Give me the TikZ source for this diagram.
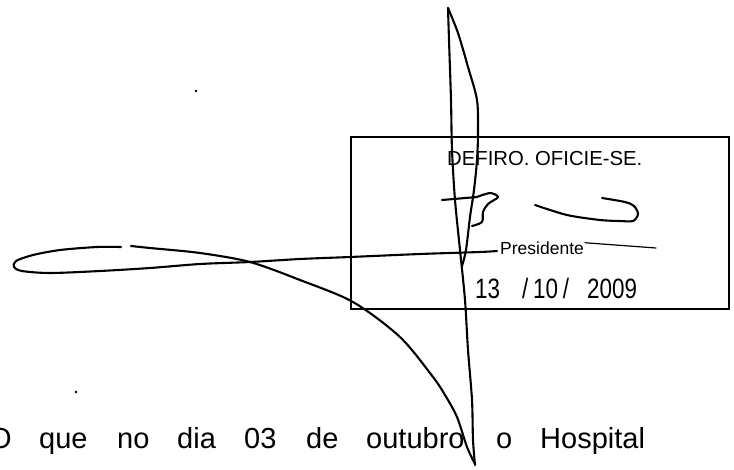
\documentclass[tikz,border=0pt]{standalone}
\usepackage{fontspec}
\setmainfont{Liberation Sans}
\begin{document}
\begin{tikzpicture}[x=1pt,y=-1pt,
  stampbox/.style={draw, line width=2.3pt, minimum width=378pt, minimum height=172pt, inner sep=0pt},
  pen/.style={line width=2.1pt, line cap=round, line join=round},
  thinpen/.style={line width=1.2pt, line cap=round},
  word/.style={anchor=base west, inner sep=0pt, font=\fontsize{29}{34}\selectfont},
  stamptxt/.style={anchor=base west, inner sep=0pt},
  speck/.style={fill=black, circle, inner sep=0pt, minimum size=2.6pt}]
\useasboundingbox (0,0) rectangle (734,469);

% stamp
\node[stampbox] (stamp) at (540,223) {};
\node[stamptxt, font=\fontsize{20.3}{24}\selectfont] (defiro) at (447,165) {DEFIRO. OFICIE-SE.};
\node[stamptxt, font=\fontsize{17.5}{20}\selectfont] (pres) at (500,254) {Presidente};
\node[stamptxt, font=\fontsize{28}{30}\selectfont] (d1) at (475,298) {\scalebox{0.8}[1]{13}};
\node[stamptxt, font=\fontsize{28}{30}\selectfont] (d2) at (522,298) {\scalebox{0.8}[1]{/\hspace{6pt}10\hspace{6pt}/}};
\node[stamptxt, font=\fontsize{28}{30}\selectfont] (d3) at (587,298) {\scalebox{0.8}[1]{2009}};
\coordinate (presR) at (656,248);
\draw[thinpen] ([xshift=1pt,yshift=5pt]pres.east) -- (presR);

% needle stroke
\draw[pen] plot[smooth, tension=0.5] coordinates {(475,465) (473,440) (472,400) (468,350) (465,300) (460,250) (455,200) (452,150) (451,100) (449,40) (448,8)};
\draw[pen] plot[smooth, tension=0.5] coordinates {(448,8) (458,33) (468,67) (477,100) (478,133) (477,160) (474,190) (470,217) (466,250) (462,266)};

% arc and loop
\draw[pen] plot[smooth, tension=0.5] coordinates {(475,464) (467,447) (457,417) (445,395) (433,377) (400,337) (353,302) (300,280) (250,262) (200,253) (150,248) (131,246)};
\draw[pen] plot[smooth, tension=0.5] coordinates {(121,247) (97,247) (60,250) (33,255) (16,261) (14,267) (22,271) (50,273) (100,271) (150,268) (200,264) (250,262) (300,259) (350,257) (420,254) (480,252) (497,251)};

% T-like mark
\draw[pen] (442,200) -- (477,197) plot[smooth, tension=0.5] coordinates {(477,197) (490,193) (498,197) (488,204) (483,212) (482,222) (472,226)};

% hook stroke
\draw[pen] plot[smooth, tension=0.5] coordinates {(535,205) (567,215) (600,220) (620,221) (633,221) (638,214) (634,206) (625,202) (602,198)};

% specks
\node[speck] (s1) at (196,91) {};
\node[speck] (s2) at (76,392) {};

% bottom line of text
\node[word] (w0) at (-11,448) {O};
\node[word] (w1) at (39,448) {que};
\node[word] (w2) at (117,448) {no};
\node[word] (w3) at (177,448) {dia};
\node[word] (w4) at (244,448) {03};
\node[word] (w5) at (306,448) {de};
\node[word] (w6) at (366,448) {outubro};
\node[word] (w7) at (496,448) {o};
\node[word] (w8) at (540,448) {Hospital};
\end{tikzpicture}
\end{document}
